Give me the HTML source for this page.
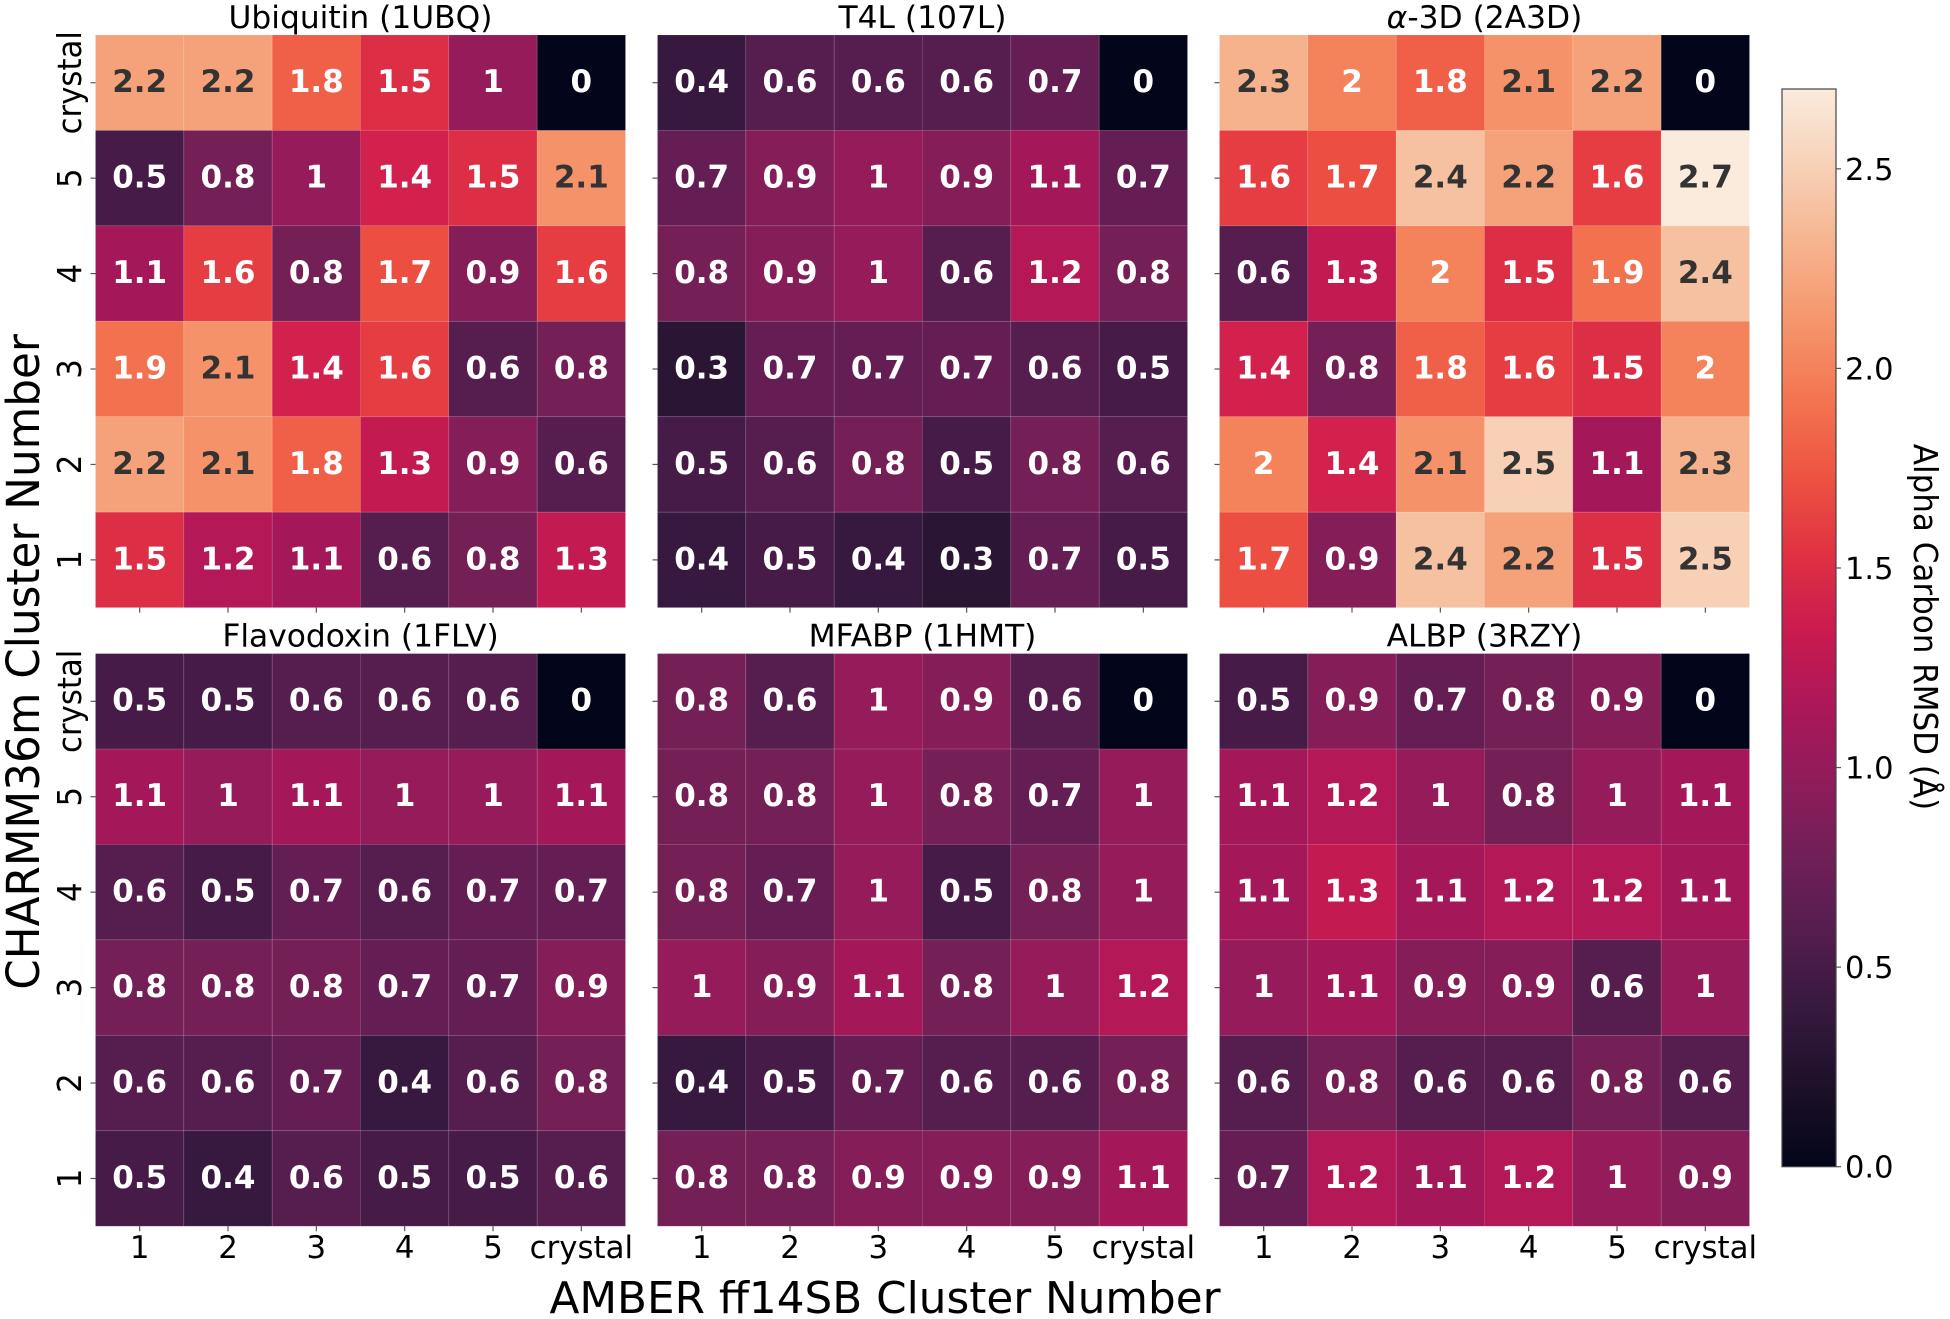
<!DOCTYPE html>
<html lang="en">
<head>
<meta charset="utf-8">
<title>Alpha Carbon RMSD Heatmaps</title>
<style>
html,body{margin:0;padding:0;background:#fff;}
#figure{display:block;width:1950px;height:1319px;filter:blur(0.35px);}
text{font-family:"DejaVu Sans","Liberation Sans",sans-serif;fill:#000;}
.t-title{font-size:31.3px;text-anchor:middle;}
.t-tick{font-size:30.8px;}
.t-cbtick{font-size:30.5px;}
.t-annot{font-size:31px;font-weight:700;text-anchor:middle;}
.t-axis{font-size:43.7px;text-anchor:middle;}
.t-cbar{font-size:31px;text-anchor:middle;}
</style>
</head>
<body>
<svg id="figure" xmlns="http://www.w3.org/2000/svg" width="1950" height="1319" viewBox="0 0 1950 1319">
  <rect x="0" y="0" width="1950" height="1319" fill="#ffffff"/>
  <g id="panels"></g>
  <text class="t-axis" x="885" y="1313">AMBER ff14SB Cluster Number</text>
  <text class="t-axis" transform="translate(39 662) rotate(-90) scale(1 1.04)">CHARMM36m Cluster Number</text>
  <g id="colorbar"></g>
  <text class="t-cbar" transform="translate(1914 627) rotate(90) scale(1 1.07)">Alpha Carbon RMSD (Å)</text>
</svg>
<script>
// ---- Data ----
const xCategories = ['1', '2', '3', '4', '5', 'crystal'];
const yCategories = ['crystal', '5', '4', '3', '2', '1'];
const panelTitles = ['Ubiquitin (1UBQ)', 'T4L (107L)', 'α-3D (2A3D)', 'Flavodoxin (1FLV)', 'MFABP (1HMT)', 'ALBP (3RZY)'];
const ubiquitinValues = [
  [2.2, 2.2, 1.8, 1.5, 1.0, 0],
  [0.5, 0.8, 1.0, 1.4, 1.5, 2.1],
  [1.1, 1.6, 0.8, 1.7, 0.9, 1.6],
  [1.9, 2.1, 1.4, 1.6, 0.6, 0.8],
  [2.2, 2.1, 1.8, 1.3, 0.9, 0.6],
  [1.5, 1.2, 1.1, 0.6, 0.8, 1.3]
];
const t4lValues = [
  [0.4, 0.6, 0.6, 0.6, 0.7, 0],
  [0.7, 0.9, 1.0, 0.9, 1.1, 0.7],
  [0.8, 0.9, 1.0, 0.6, 1.2, 0.8],
  [0.3, 0.7, 0.7, 0.7, 0.6, 0.5],
  [0.5, 0.6, 0.8, 0.5, 0.8, 0.6],
  [0.4, 0.5, 0.4, 0.3, 0.7, 0.5]
];
const alpha3dValues = [
  [2.3, 2.0, 1.8, 2.1, 2.2, 0],
  [1.6, 1.7, 2.4, 2.2, 1.6, 2.7],
  [0.6, 1.3, 2.0, 1.5, 1.9, 2.4],
  [1.4, 0.8, 1.8, 1.6, 1.5, 2.0],
  [2.0, 1.4, 2.1, 2.5, 1.1, 2.3],
  [1.7, 0.9, 2.4, 2.2, 1.5, 2.5]
];
const flavodoxinValues = [
  [0.5, 0.5, 0.6, 0.6, 0.6, 0],
  [1.1, 1.0, 1.1, 1.0, 1.0, 1.1],
  [0.6, 0.5, 0.7, 0.6, 0.7, 0.7],
  [0.8, 0.8, 0.8, 0.7, 0.7, 0.9],
  [0.6, 0.6, 0.7, 0.4, 0.6, 0.8],
  [0.5, 0.4, 0.6, 0.5, 0.5, 0.6]
];
const mfabpValues = [
  [0.8, 0.6, 1.0, 0.9, 0.6, 0],
  [0.8, 0.8, 1.0, 0.8, 0.7, 1.0],
  [0.8, 0.7, 1.0, 0.5, 0.8, 1.0],
  [1.0, 0.9, 1.1, 0.8, 1.0, 1.2],
  [0.4, 0.5, 0.7, 0.6, 0.6, 0.8],
  [0.8, 0.8, 0.9, 0.9, 0.9, 1.1]
];
const albpValues = [
  [0.5, 0.9, 0.7, 0.8, 0.9, 0],
  [1.1, 1.2, 1.0, 0.8, 1.0, 1.1],
  [1.1, 1.3, 1.1, 1.2, 1.2, 1.1],
  [1.0, 1.1, 0.9, 0.9, 0.6, 1.0],
  [0.6, 0.8, 0.6, 0.6, 0.8, 0.6],
  [0.7, 1.2, 1.1, 1.2, 1.0, 0.9]
];
const colorbarTicks = [0, 0.5, 1, 1.5, 2, 2.5];

// ---- Layout (not data) ----
const panelData = [ubiquitinValues, t4lValues, alpha3dValues, flavodoxinValues, mfabpValues, albpValues];
const NS = 'http://www.w3.org/2000/svg';
const vMax = 2.7;
const panelW = 530, panelH = 572.6, panelGap = 32, panelLeft = 95.5;
const rowTops = [35, 653.6];
const cbar = {x: 1782, w: 54, top: 89, bottom: 1166.7};

// seaborn "rocket" colormap stops
const rocket = [
  [0, 3, 5, 26], [0.0714, 28, 16, 40], [0.1429, 53, 25, 62], [0.2143, 83, 29, 78], [0.2857, 112, 31, 87],
  [0.3571, 143, 28, 90], [0.4286, 173, 23, 89], [0.5, 203, 27, 79], [0.5714, 225, 51, 66], [0.6429, 238, 84, 66],
  [0.7143, 243, 118, 81], [0.7857, 245, 150, 108], [0.8571, 246, 180, 143], [0.9286, 247, 209, 183], [1, 250, 235, 221]
];
function rocketColor(t) {
  t = Math.max(0, Math.min(1, t));
  for (let i = 1; i < rocket.length; i++) {
    if (t <= rocket[i][0]) {
      const a = rocket[i - 1], b = rocket[i];
      const f = (t - a[0]) / (b[0] - a[0]);
      return [1, 2, 3].map(k => Math.round(a[k] + (b[k] - a[k]) * f));
    }
  }
  return rocket[rocket.length - 1].slice(1);
}
function colorOf(v) {
  const c = rocketColor(v / vMax);
  return 'rgb(' + c.join(',') + ')';
}
function luminance(v) {
  const c = rocketColor(v / vMax).map(x => {
    const s = x / 255;
    return s <= 0.03928 ? s / 12.92 : Math.pow((s + 0.055) / 1.055, 2.4);
  });
  return 0.2126 * c[0] + 0.7152 * c[1] + 0.0722 * c[2];
}
function make(tag, attrs, parent, txt) {
  const el = document.createElementNS(NS, tag);
  for (const k in attrs) el.setAttribute(k, attrs[k]);
  if (txt !== undefined) el.textContent = txt;
  parent.appendChild(el);
  return el;
}
function formatValue(v) {
  return String(+v.toFixed(1));
}

const panelsRoot = document.getElementById('panels');
panelData.forEach(function (values, p) {
  const col = p % 3, row = Math.floor(p / 3);
  const left = panelLeft + col * (panelW + panelGap);
  const top = rowTops[row];
  const xScale = i => left + i * panelW / xCategories.length;
  const yScale = j => top + j * panelH / yCategories.length;

  const g = make('g', {}, panelsRoot);
  
  

  const title = make('text', {class: 't-title', x: left + panelW / 2, y: top - 7}, g);
  
  
  // the Greek letter in a title is set in italics, as mathtext does
  panelTitles[p].split(/(α)/).forEach(function (part) {
    if (part === '') return;
    make('tspan', part === 'α' ? {'font-style': 'italic'} : {}, title, part);
  });

  values.forEach(function (rowVals, j) {
    rowVals.forEach(function (v, i) {
      const cell = make('rect', {
        x: xScale(i), y: yScale(j),
        width: xScale(i + 1) - xScale(i), height: yScale(j + 1) - yScale(j),
        fill: colorOf(v), stroke: 'rgba(255,255,255,0.13)', 'stroke-width': 0.8
      }, g);
      
      
    });
  });
  values.forEach(function (rowVals, j) {
    rowVals.forEach(function (v, i) {
      const cx = (xScale(i) + xScale(i + 1)) / 2;
      const cy = (yScale(j) + yScale(j + 1)) / 2;
      const label = make('text', {
        class: 't-annot', x: cx, y: cy + 9.4,
        style: 'fill:' + (luminance(v) > 0.408 ? '#333333' : '#ffffff')
      }, g, formatValue(v));
      
      
    });
  });

  // x ticks on every panel, labels on bottom row only
  xCategories.forEach(function (name, i) {
    const cx = (xScale(i) + xScale(i + 1)) / 2;
    const bottom = top + panelH;
    const tick = make('line', {x1: cx, x2: cx, y1: bottom, y2: bottom + 5, stroke: '#555', 'stroke-width': 1.2}, g);
    
    
    if (row === 1) {
      const lab = make('text', {class: 't-tick', x: cx, y: bottom + 32, 'text-anchor': 'middle'}, g, name);
      
      
    }
  });
  // y ticks on every panel, labels on left column only
  yCategories.forEach(function (name, j) {
    const cy = (yScale(j) + yScale(j + 1)) / 2;
    const tick = make('line', {x1: left - 5, x2: left, y1: cy, y2: cy, stroke: '#555', 'stroke-width': 1.2}, g);
    
    
    if (col === 0) {
      const lab = make('text', {class: 't-tick', 'text-anchor': 'middle', transform: 'translate(81 ' + cy + ') rotate(-90) scale(1 1.07)'}, g, name);
      
      
    }
  });
});

// ---- Colorbar ----
const cbarRoot = document.getElementById('colorbar');
const cbarScale = v => cbar.bottom - v * (cbar.bottom - cbar.top) / vMax;
const defs = make('defs', {}, cbarRoot);
const grad = make('linearGradient', {id: 'rocket-gradient', x1: 0, y1: 1, x2: 0, y2: 0}, defs);
rocket.forEach(function (s) {
  make('stop', {offset: s[0], 'stop-color': 'rgb(' + s[1] + ',' + s[2] + ',' + s[3] + ')'}, grad);
});
const cbarRect = make('rect', {
  x: cbar.x, y: cbar.top, width: cbar.w, height: cbar.bottom - cbar.top,
  fill: 'url(#rocket-gradient)', stroke: '#444', 'stroke-width': 1.2
}, cbarRoot);


colorbarTicks.forEach(function (v) {
  const y = cbarScale(v);
  const tick = make('line', {x1: cbar.x + cbar.w, x2: cbar.x + cbar.w + 5, y1: y, y2: y, stroke: '#555', 'stroke-width': 1.2}, cbarRoot);
  
  
  const lab = make('text', {class: 't-cbtick', x: cbar.x + cbar.w + 9, y: y + 11, 'text-anchor': 'start'}, cbarRoot, v.toFixed(1));
  
  
});
</script>
</body>
</html>
